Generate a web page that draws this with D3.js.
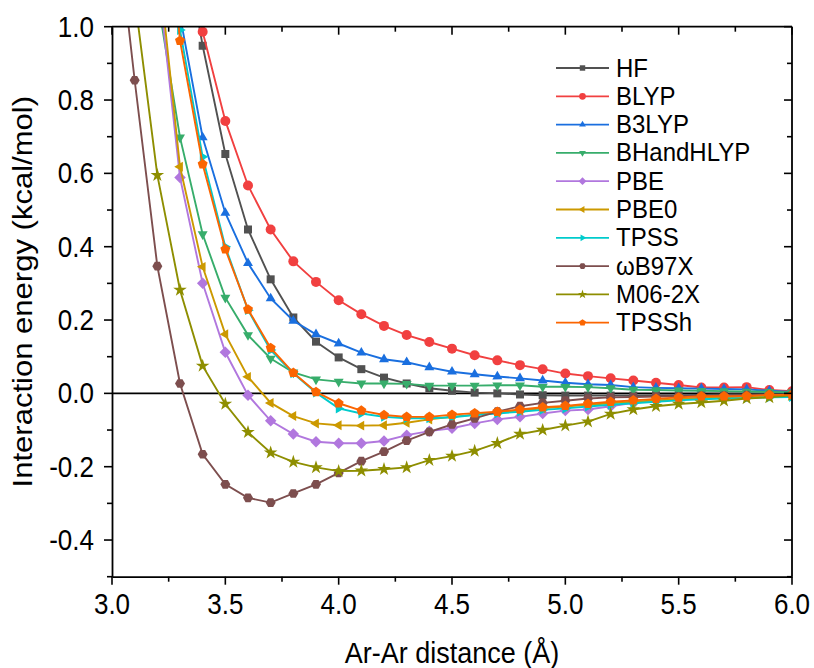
<!DOCTYPE html>
<html>
<head>
<meta charset="utf-8">
<script src="https://cdn.jsdelivr.net/npm/d3@7"></script>
<style>
    body { margin: 0; background: #fff; }
    svg { display: block; font-family: 'Liberation Sans', Arial, sans-serif; }
    text { fill: #000; }
</style>
</head>
<body>
<div id="chart"></div>
<script>
// distances (Å)
const distances = [3.0, 3.1, 3.2, 3.3, 3.4, 3.5, 3.6, 3.7, 3.8, 3.9, 4.0, 4.1, 4.2, 4.3, 4.4, 4.5,
    4.6, 4.7, 4.8, 4.9, 5.0, 5.1, 5.2, 5.3, 5.4, 5.5, 5.6, 5.7, 5.8, 5.9, 6.0]

// interaction energies (kcal/mol), null = not shown
const hf = [null, null, null, 1.30, 0.948, 0.653, 0.447, 0.311, 0.207, 0.141, 0.098, 0.066, 0.043, 0.027, 0.014, 0.007,
    0.002, 0.000, -0.003, -0.005, -0.006, -0.006, -0.006, -0.006, -0.005, -0.005, -0.004, -0.003, -0.003, -0.002, -0.002]
const blyp = [null, null, null, 1.35, 0.986, 0.743, 0.567, 0.447, 0.360, 0.304, 0.254, 0.216, 0.184, 0.159, 0.140, 0.122,
    0.104, 0.090, 0.077, 0.066, 0.054, 0.047, 0.041, 0.035, 0.029, 0.023, 0.016, 0.016, 0.017, 0.009, 0.006]
const b3lyp = [null, null, null, 1.03, 0.698, 0.492, 0.355, 0.259, 0.198, 0.161, 0.136, 0.111, 0.093, 0.085, 0.071, 0.059,
    0.052, 0.046, 0.041, 0.035, 0.029, 0.025, 0.023, 0.017, 0.015, 0.014, 0.013, 0.012, 0.011, 0.007, 0.004]
const bhandhlyp = [null, null, 1.08, 0.698, 0.434, 0.261, 0.159, 0.095, 0.057, 0.038, 0.032, 0.027, 0.027, 0.026, 0.021, 0.021,
    0.021, 0.022, 0.022, 0.018, 0.018, 0.017, 0.014, 0.010, 0.009, 0.008, 0.007, 0.006, 0.005, 0.004, 0.003]
const pbe = [null, null, 1.15, 0.589, 0.300, 0.112, -0.005, -0.075, -0.111, -0.132, -0.136, -0.136, -0.130, -0.114, -0.103, -0.095,
    -0.082, -0.071, -0.064, -0.055, -0.047, -0.044, -0.035, -0.026, -0.020, -0.016, -0.012, -0.010, -0.008, -0.006, -0.005]
const pbe0 = [null, null, 1.20, 0.618, 0.345, 0.161, 0.045, -0.026, -0.062, -0.082, -0.087, -0.088, -0.087, -0.080, -0.071, -0.064,
    -0.058, -0.052, -0.047, -0.041, -0.036, -0.031, -0.027, -0.023, -0.019, -0.016, -0.013, -0.011, -0.009, -0.007, -0.006]
const tpss = [null, null, 1.50, 0.991, 0.645, 0.400, 0.227, 0.118, 0.055, 0.002, -0.041, -0.055, -0.064, -0.068, -0.068, -0.065,
    -0.059, -0.055, -0.050, -0.045, -0.041, -0.036, -0.031, -0.027, -0.023, -0.019, -0.016, -0.014, -0.013, -0.011, -0.010]
const wb97x = [1.40, 0.854, 0.347, 0.027, -0.166, -0.248, -0.285, -0.298, -0.273, -0.248, -0.217, -0.185, -0.159, -0.129, -0.105, -0.085,
    -0.068, -0.050, -0.035, -0.026, -0.020, -0.014, -0.011, -0.010, -0.009, -0.008, -0.007, -0.006, -0.005, -0.004, -0.004]
const m062x = [null, 1.08, 0.595, 0.282, 0.075, -0.029, -0.106, -0.162, -0.187, -0.202, -0.212, -0.211, -0.207, -0.202, -0.182, -0.171,
    -0.157, -0.136, -0.111, -0.100, -0.088, -0.077, -0.056, -0.044, -0.035, -0.029, -0.025, -0.020, -0.014, -0.011, -0.005]
const tpssh = [null, null, 1.60, 0.962, 0.625, 0.393, 0.229, 0.124, 0.056, 0.004, -0.027, -0.047, -0.059, -0.064, -0.064, -0.058,
    -0.054, -0.050, -0.044, -0.038, -0.034, -0.028, -0.023, -0.019, -0.015, -0.011, -0.008, -0.008, -0.007, -0.004, -0.004]

const seriesNames = ['HF', 'BLYP', 'B3LYP', 'BHandHLYP', 'PBE', 'PBE0', 'TPSS', 'ωB97X', 'M06-2X', 'TPSSh']
const seriesValues = [hf, blyp, b3lyp, bhandhlyp, pbe, pbe0, tpss, wb97x, m062x, tpssh]
const seriesColors = ['#515151', '#f14040', '#1a6fdf', '#37ad6b', '#b177de', '#cc9900', '#00cbcc', '#7d4e4e', '#8e8e00', '#fb6501']
const seriesSymbols = ['square', 'circle', 'up', 'down', 'diamond', 'left', 'right', 'hexagon', 'star', 'pentagon']

const xTicks = [3.0, 3.5, 4.0, 4.5, 5.0, 5.5, 6.0]
const yTicks = [-0.4, -0.2, 0.0, 0.2, 0.4, 0.6, 0.8, 1.0]

const width = 814
const height = 668
const margin = { top: 26.7, right: 22, bottom: 91.3, left: 112 }
const stretch = 1.1 // the source picture has slightly tall text

const svg = d3.select('#chart').append('svg')
    .attr('width', width)
    .attr('height', height)

const x = d3.scaleLinear().domain([3.0, 6.0]).range([margin.left, width - margin.right])
const y = d3.scaleLinear().domain([-0.5, 1.0]).range([height - margin.bottom, margin.top])

// marker shapes
function polygon(n, r, rot) {
    const pts = d3.range(n).map((i) => {
        const a = rot + (i * 2 * Math.PI) / n
        return [r * Math.cos(a), r * Math.sin(a)]
    })
    return 'M' + pts.map((p) => p[0].toFixed(2) + ',' + p[1].toFixed(2)).join('L') + 'Z'
}
function markerPath(type, s) {
    switch (type) {
        case 'square': return `M${-s * 0.8},${-s * 0.8}h${s * 1.6}v${s * 1.6}h${-s * 1.6}Z`
        case 'circle': return d3.symbol(d3.symbolCircle, Math.PI * s * s)()
        case 'up': return polygon(3, s * 1.15, -Math.PI / 2)
        case 'down': return polygon(3, s * 1.15, Math.PI / 2)
        case 'left': return polygon(3, s * 1.15, Math.PI)
        case 'right': return polygon(3, s * 1.15, 0)
        case 'diamond': return polygon(4, s * 1.15, -Math.PI / 2)
        case 'hexagon': return polygon(6, s, 0)
        case 'pentagon': return polygon(5, s * 1.05, -Math.PI / 2)
        case 'star': return d3.symbol(d3.symbolStar, s * s * 2.3)()
    }
}

// clip
svg.append('defs').append('clipPath').attr('id', 'plot-clip')
    .append('rect')
    .attr('x', margin.left)
    .attr('y', margin.top)
    .attr('width', width - margin.left - margin.right)
    .attr('height', height - margin.top - margin.bottom)

const plot = svg.append('g').attr('clip-path', 'url(#plot-clip)')

// zero line
plot.append('line')
    .attr('x1', x(3.0)).attr('x2', x(6.0))
    .attr('y1', y(0)).attr('y2', y(0))
    .attr('stroke', '#000').attr('stroke-width', 1.6)

const line = d3.line()
    .defined((d) => d.v != null)
    .x((d) => x(d.r))
    .y((d) => y(d.v))

seriesNames.forEach((name, i) => {
    const pts = distances.map((r, j) => ({ r, v: seriesValues[i][j] }))
    const g = plot.append('g')
    g.append('path')
        .datum(pts)
        .attr('fill', 'none')
        .attr('stroke', seriesColors[i])
        .attr('stroke-width', 1.9)
        .attr('d', line)
    g.selectAll('path.mk')
        .data(pts.filter((d) => d.v != null))
        .join('path')
        .attr('class', 'mk')
        .attr('d', markerPath(seriesSymbols[i], 5))
        .attr('transform', (d) => `translate(${x(d.r)},${y(d.v)})`)
        .attr('fill', seriesColors[i])
})

// axes
const axisColor = '#000'
const bottomAxis = svg.append('g').attr('transform', `translate(0,${y(-0.5)})`)
bottomAxis.call(d3.axisBottom(x).tickValues([]).tickSizeOuter(0))
bottomAxis.select('.domain').attr('stroke-width', 1.8)
bottomAxis.selectAll('.tk').data(d3.range(3.0, 6.01, 0.25)).join('line')
    .attr('x1', (d) => x(d)).attr('x2', (d) => x(d))
    .attr('y1', 0).attr('y2', (d, i) => (i % 2 === 0 ? 8 : 5))
    .attr('stroke', axisColor).attr('stroke-width', 1.6)
bottomAxis.selectAll('.lbl').data(xTicks).join('text')
    .attr('transform', (d) => `translate(${x(d)},37) scale(1,${stretch})`)
    .attr('text-anchor', 'middle')
    .attr('font-size', 26)
    .text((d) => d.toFixed(1))

const leftAxis = svg.append('g').attr('transform', `translate(${x(3.0)},0)`)
leftAxis.call(d3.axisLeft(y).tickValues([]).tickSizeOuter(0))
leftAxis.select('.domain').attr('stroke-width', 1.8)
leftAxis.selectAll('.tk').data(d3.range(-5, 11)).join('line')
    .attr('x1', 0).attr('x2', (d) => (d % 2 === 0 ? -8 : -5))
    .attr('y1', (d) => y(d / 10)).attr('y2', (d) => y(d / 10))
    .attr('stroke', axisColor).attr('stroke-width', 1.6)
leftAxis.selectAll('.lbl').data(yTicks).join('text')
    .attr('transform', (d) => `translate(-18,${y(d) + 10}) scale(1,${stretch})`)
    .attr('text-anchor', 'end')
    .attr('font-size', 26)
    .text((d) => d.toFixed(1))

// mirror axes
const topAxis = svg.append('g')
topAxis.append('line')
    .attr('x1', x(3.0)).attr('x2', x(6.0)).attr('y1', y(1.0)).attr('y2', y(1.0))
    .attr('stroke', axisColor).attr('stroke-width', 1.8)
topAxis.selectAll('.tk').data(d3.range(3.0, 6.01, 0.25)).join('line')
    .attr('x1', (d) => x(d)).attr('x2', (d) => x(d))
    .attr('y1', y(1.0)).attr('y2', (d, i) => y(1.0) + (i % 2 === 0 ? 8 : 5))
    .attr('stroke', axisColor).attr('stroke-width', 1.6)

const rightAxis = svg.append('g')
rightAxis.append('line')
    .attr('x1', x(6.0)).attr('x2', x(6.0)).attr('y1', y(1.0)).attr('y2', y(-0.5))
    .attr('stroke', axisColor).attr('stroke-width', 1.8)
rightAxis.selectAll('.tk').data(d3.range(-5, 11)).join('line')
    .attr('x1', x(6.0)).attr('x2', (d) => x(6.0) - (d % 2 === 0 ? 8 : 5))
    .attr('y1', (d) => y(d / 10)).attr('y2', (d) => y(d / 10))
    .attr('stroke', axisColor).attr('stroke-width', 1.6)

// axis titles
svg.append('text')
    .attr('transform', `translate(${(x(3.0) + x(6.0)) / 2},663) scale(1,${stretch})`)
    .attr('text-anchor', 'middle')
    .attr('font-size', 27)
    .text('Ar-Ar distance (Å)')

svg.append('text')
    .attr('transform', `translate(32,${(y(1.0) + y(-0.5)) / 2 - 10}) rotate(-90) scale(1.15,1)`)
    .attr('text-anchor', 'middle')
    .attr('font-size', 27)
    .text('Interaction energy (kcal/mol)')

// legend
const legend = svg.append('g').attr('transform', 'translate(556,68)')
seriesNames.forEach((name, i) => {
    const row = legend.append('g').attr('transform', `translate(0,${i * 28.3})`)
    row.append('line')
        .attr('x1', 0).attr('x2', 53)
        .attr('stroke', seriesColors[i]).attr('stroke-width', 1.8)
    row.append('path')
        .attr('d', markerPath(seriesSymbols[i], 3.4))
        .attr('transform', 'translate(26.5,0)')
        .attr('fill', seriesColors[i])
    row.append('text')
        .attr('transform', `translate(60,8.5) scale(1,${stretch})`)
        .attr('font-size', 24)
        .text(name)
})
</script>
</body>
</html>
